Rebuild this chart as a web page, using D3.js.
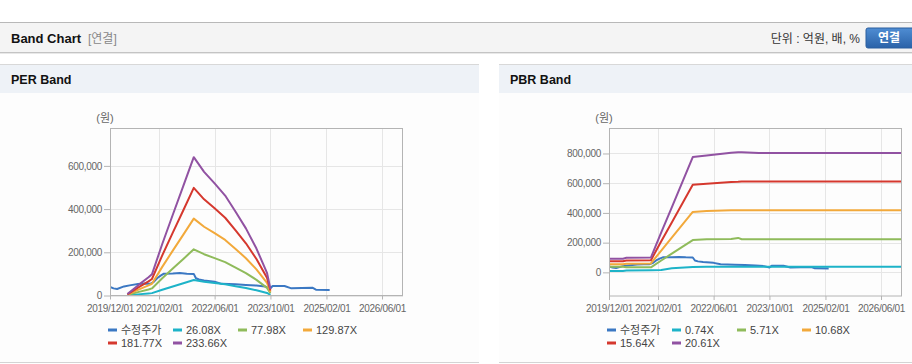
<!DOCTYPE html>
<html>
<head>
<meta charset="utf-8">
<script src="https://cdn.jsdelivr.net/npm/d3@7"></script>
<style>
body { margin: 0; background: #fff; }
svg text { font-family: "Liberation Sans", Arial, "Noto Sans CJK KR", sans-serif; }
.grid line { stroke: #e6e6e6; stroke-width: 1; }
.frame { fill: none; stroke: #b4b4b4; stroke-width: 1; }
.axis path { display: none; }
.axis line { stroke: #b4b4b4; }
.axis text { fill: #666; font-size: 10px; letter-spacing: -0.3px; }
.band-line { fill: none; stroke-width: 2; stroke-linejoin: round; }
.legend text { fill: #444; font-size: 11px; }
</style>
</head>
<body>
<svg width="912" height="364"></svg>
<script>
// shared adjusted price (수정주가)
var priceDates = ["2019-12-01","2020-01-01","2020-02-01","2020-04-01","2020-06-01","2020-08-01","2020-10-01","2020-11-15",
    "2020-12-15","2021-01-15","2021-02-15","2021-03-15","2021-06-01","2021-08-01","2021-10-01","2021-12-01","2021-12-20",
    "2022-01-15","2022-03-01","2022-06-01","2022-08-01","2022-12-01","2023-03-01","2023-06-01","2023-08-15","2023-10-01",
    "2023-10-20","2024-02-01","2024-04-01","2024-07-01","2024-10-01","2024-11-01","2025-03-01"];
var priceValues = [40000,33000,30000,42000,48000,53000,55000,54000,
    62000,80000,92000,101000,102000,104000,101000,100000,80000,
    74000,70000,64000,54000,52000,49000,46000,42000,33000,
    44000,44000,33000,35000,36000,27000,26000];

// PER band lines
var perDates = ["2020-05-01","2020-08-01","2020-11-01","2020-12-01","2021-03-01","2021-06-01","2021-09-01","2021-12-01",
    "2022-03-01","2022-06-01","2022-09-01","2022-12-01","2023-03-01","2023-06-01","2023-09-01","2023-10-01"];
var per2608 = [800,5200,9400,11000,26600,41700,56600,71500,63900,57900,51600,43300,34700,24300,11700,3400];
var per7798 = [2300,15600,28100,32800,79500,124800,169200,213700,191100,173100,154400,129400,103700,72500,35100,10100];
var per12987 = [3900,26000,46800,54500,132500,207800,281800,355800,318200,288300,257100,215600,172700,120800,58400,16900];
var per18177 = [5500,36400,65400,76300,185400,290800,394400,498000,445300,403500,359900,301700,241800,169000,81800,23600];
var per23366 = [7000,46700,84100,98100,238300,373900,507000,640200,572500,518700,462600,387900,310800,217300,105100,30400];
var perLabels = ["수정주가","26.08X","77.98X","129.87X","181.77X","233.66X"];

// PBR band lines
var pbrDates = ["2019-12-01","2020-04-01","2020-05-01","2020-12-01","2021-03-01","2021-06-01","2021-12-01",
    "2022-04-01","2022-11-01","2023-01-01","2023-02-01","2023-07-01","2026-12-01"];
var pbr074 = [10000,10000,12000,14000,16000,27000,36000,38000,38000,38000,38000,38000,38000];
var pbr571 = [38000,38000,34000,34000,80000,126000,217000,223000,225000,232000,223000,223000,223000];
var pbr1068 = [55000,55000,58000,60000,147000,234000,407000,413000,418000,418000,418000,418000,418000];
var pbr1564 = [75000,75000,80000,82000,209000,336000,590000,597000,608000,610000,612000,612000,612000];
var pbr2061 = [92000,92000,98000,100000,269000,438000,776000,787000,805000,808000,809000,803000,803000];
var pbrLabels = ["수정주가","0.74X","5.71X","10.68X","15.64X","20.61X"];

var xTickDates = ["2019-12-01","2021-02-01","2022-06-01","2023-10-01","2025-02-01","2026-06-01"];
var xTickLabels = ["2019/12/01","2021/02/01","2022/06/01","2023/10/01","2025/02/01","2026/06/01"];
var perYTicks = [0,200000,400000,600000];
var pbrYTicks = [0,200000,400000,600000,800000];

var seriesColors = ["#3b78c3","#1db3c8","#8fbb5b","#f2a93b","#d5382e","#9152a2"];

var parse = d3.timeParse("%Y-%m-%d");
var svg = d3.select("svg");

// page header
svg.append("rect").attr("x", 0).attr("y", 22).attr("width", 912).attr("height", 31).attr("fill", "#f4f4f4");
svg.append("line").attr("x1", 0).attr("x2", 912).attr("y1", 22.5).attr("y2", 22.5).attr("stroke", "#b8b8b8");
svg.append("line").attr("x1", 0).attr("x2", 912).attr("y1", 52.5).attr("y2", 52.5).attr("stroke", "#c4c4c4");
svg.append("line").attr("x1", 0).attr("x2", 912).attr("y1", 53.5).attr("y2", 53.5).attr("stroke", "#e8e8e8");
svg.append("text").text("Band Chart").attr("x", 11).attr("y", 43)
    .attr("font-size", "13px").attr("font-weight", "bold").attr("fill", "#111");
svg.append("text").text("[연결]").attr("x", 88).attr("y", 43)
    .attr("font-size", "12px").attr("fill", "#888");
svg.append("text").text("단위 : 억원, 배, %").attr("x", 860).attr("y", 43)
    .attr("text-anchor", "end").attr("font-size", "12px").attr("fill", "#333");

var grad = svg.append("defs").append("linearGradient").attr("id", "btn").attr("x1", 0).attr("x2", 0).attr("y1", 0).attr("y2", 1);
grad.append("stop").attr("offset", "0%").attr("stop-color", "#4f8dd3");
grad.append("stop").attr("offset", "100%").attr("stop-color", "#2a62a8");
svg.append("rect").attr("x", 866).attr("y", 28).attr("width", 48).attr("height", 20).attr("rx", 2)
    .attr("fill", "url(#btn)").attr("stroke", "#2b5e9e");
svg.append("text").text("연결").attr("x", 889).attr("y", 42).attr("text-anchor", "middle")
    .attr("font-size", "12px").attr("font-weight", "bold").attr("fill", "#fff");

function drawPanel(opts) {
    var p = svg.append("g");

    // panel box
    p.append("rect").attr("x", opts.panelX).attr("y", 64).attr("width", opts.panelW).attr("height", 299).attr("fill", "#fdfdfd");
    p.append("rect").attr("x", opts.panelX).attr("y", 65).attr("width", opts.panelW).attr("height", 28).attr("fill", "#eef2f7");
    p.append("line").attr("x1", opts.panelX).attr("x2", opts.panelX + opts.panelW).attr("y1", 64.5).attr("y2", 64.5).attr("stroke", "#d8d8d8");
    p.append("line").attr("x1", opts.panelX).attr("x2", opts.panelX + opts.panelW).attr("y1", 362.5).attr("y2", 362.5).attr("stroke", "#d4d4d4");
    p.append("text").text(opts.title).attr("x", opts.panelX + 11).attr("y", 84)
        .attr("font-size", "12.5px").attr("font-weight", "bold").attr("fill", "#111");

    var x = d3.scaleTime().domain([parse("2019-12-01"), parse("2026-12-01")]).range([opts.left, opts.right]);
    var y = d3.scaleLinear().domain(opts.yDomain).range([opts.bottom, 128.5]);

    // grid
    var grid = p.append("g").attr("class", "grid");
    grid.selectAll(".gx").data(xTickDates).enter().append("line")
        .attr("x1", function(d) { return Math.round(x(parse(d))) + 0.5; })
        .attr("x2", function(d) { return Math.round(x(parse(d))) + 0.5; })
        .attr("y1", 128.5).attr("y2", opts.bottom);
    grid.selectAll(".gy").data(opts.yTicks).enter().append("line")
        .attr("x1", opts.left).attr("x2", opts.right)
        .attr("y1", function(d) { return Math.round(y(d)) + 0.5; })
        .attr("y2", function(d) { return Math.round(y(d)) + 0.5; });

    // axes
    p.append("g").attr("class", "axis")
        .attr("transform", "translate(0," + opts.bottom + ")")
        .call(d3.axisBottom(x).tickValues(xTickDates.map(parse)).tickSize(4).tickPadding(5)
            .tickFormat(function(d, i) { return xTickLabels[i]; }));
    p.append("g").attr("class", "axis")
        .attr("transform", "translate(" + opts.left + ",0)")
        .call(d3.axisLeft(y).tickValues(opts.yTicks).tickSize(6).tickPadding(2).tickFormat(d3.format(",")));

    p.append("text").text("(원)").attr("x", opts.left - 5).attr("y", 122)
        .attr("text-anchor", "middle").attr("font-size", "11px").attr("fill", "#666");

    // lines
    var clipId = "clip" + opts.panelX;
    p.append("clipPath").attr("id", clipId).append("rect")
        .attr("x", opts.left).attr("y", 128).attr("width", opts.right - opts.left).attr("height", opts.bottom - 128);
    var lines = p.append("g").attr("clip-path", "url(#" + clipId + ")");

    opts.series.forEach(function(s, i) {
        var pts = s.values.map(function(v, j) { return [parse(s.dates[j]), v]; });
        lines.append("path")
            .attr("class", "band-line")
            .attr("stroke", seriesColors[i])
            .attr("d", d3.line().x(function(d) { return x(d[0]); }).y(function(d) { return y(d[1]); })(pts));
    });

    p.append("rect").attr("class", "frame")
        .attr("x", opts.left + 0.5).attr("y", 128.5)
        .attr("width", opts.right - opts.left - 1).attr("height", opts.bottom - 128.5);

    // legend
    var legend = p.append("g").attr("class", "legend");
    opts.labels.forEach(function(lab, i) {
        var lx = opts.left - 2 + (i % 4) * 65,
            ly = 330 + Math.floor(i / 4) * 13;
        legend.append("line").attr("x1", lx).attr("x2", lx + 9).attr("y1", ly).attr("y2", ly)
            .attr("stroke", seriesColors[i]).attr("stroke-width", 3);
        legend.append("text").text(lab).attr("x", lx + 13).attr("y", ly + 4);
    });
}

drawPanel({
    panelX: 0, panelW: 479, title: "PER Band",
    left: 110, right: 403, bottom: 295.5,
    yDomain: [0, 773000], yTicks: perYTicks, labels: perLabels,
    series: [
        {dates: priceDates, values: priceValues},
        {dates: perDates, values: per2608},
        {dates: perDates, values: per7798},
        {dates: perDates, values: per12987},
        {dates: perDates, values: per18177},
        {dates: perDates, values: per23366}
    ]
});

drawPanel({
    panelX: 499, panelW: 413, title: "PBR Band",
    left: 609, right: 902, bottom: 296,
    yDomain: [-159000, 968000], yTicks: pbrYTicks, labels: pbrLabels,
    series: [
        {dates: priceDates, values: priceValues},
        {dates: pbrDates, values: pbr074},
        {dates: pbrDates, values: pbr571},
        {dates: pbrDates, values: pbr1068},
        {dates: pbrDates, values: pbr1564},
        {dates: pbrDates, values: pbr2061}
    ]
});
</script>
</body>
</html>
